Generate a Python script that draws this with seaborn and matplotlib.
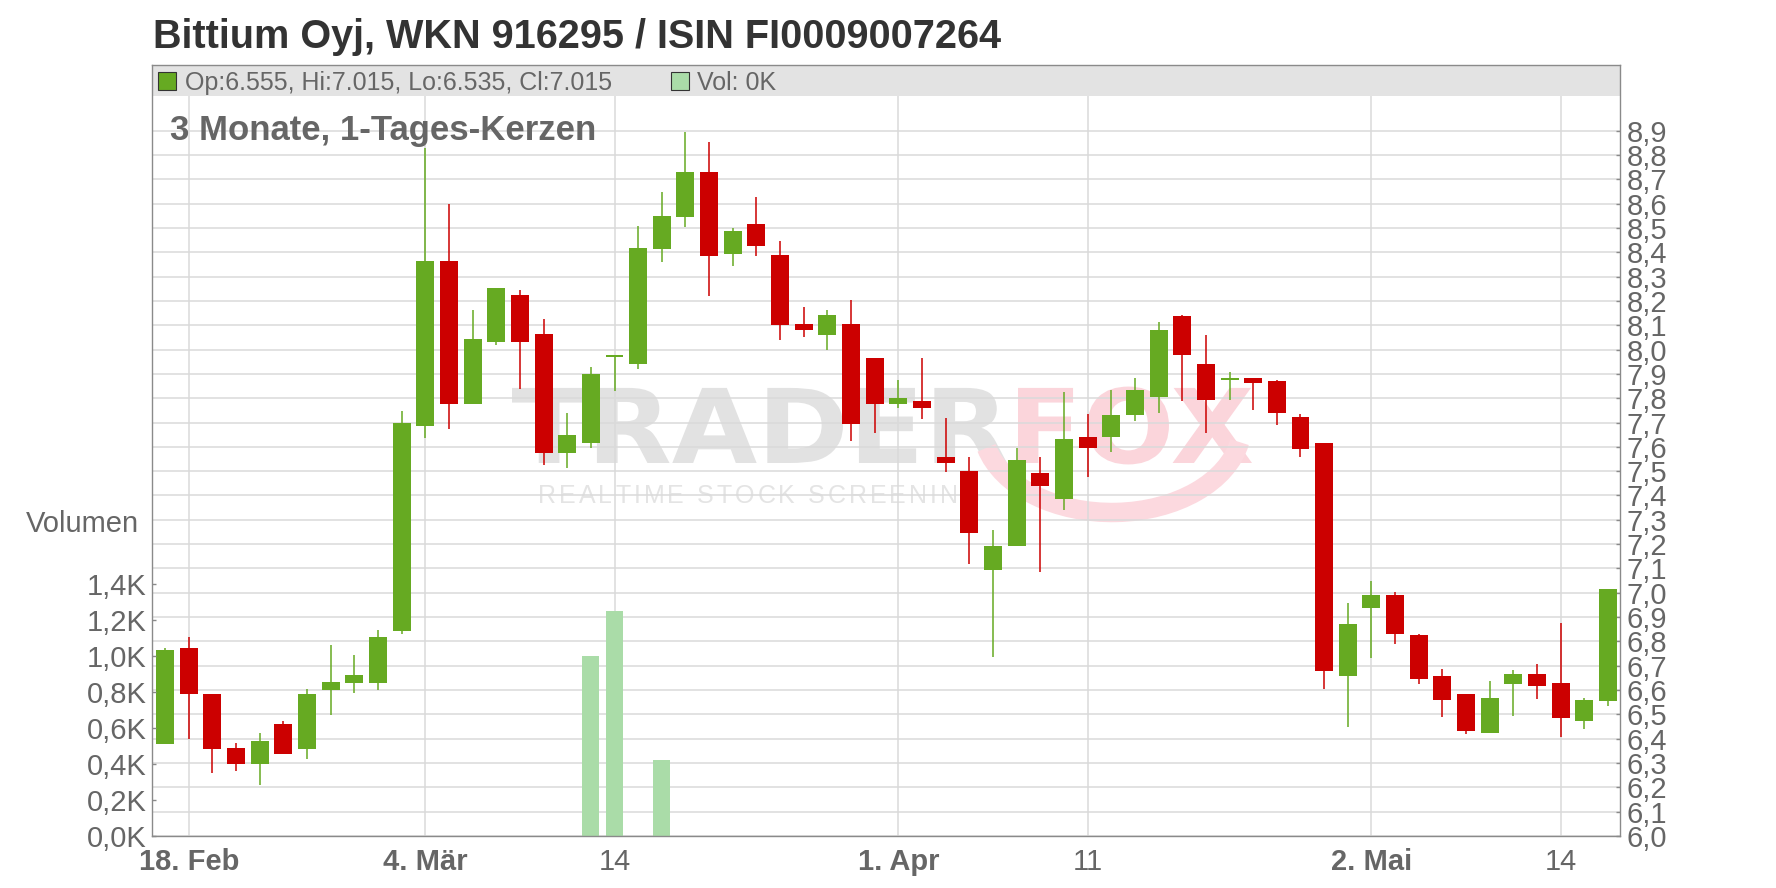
import matplotlib
matplotlib.use("Agg")
import matplotlib.pyplot as plt
from matplotlib.patches import Rectangle, Arc, PathPatch
from matplotlib.textpath import TextPath, text_to_path
from matplotlib.font_manager import FontProperties
from matplotlib.transforms import Affine2D
from matplotlib.ticker import FuncFormatter
import numpy as np
import pandas as pd
import seaborn as sns

# trading days shown (Feb 15 - May 16)
dates = [
    "2019-02-15", "2019-02-18", "2019-02-19", "2019-02-20", "2019-02-21", "2019-02-22",
    "2019-02-25", "2019-02-26", "2019-02-27", "2019-02-28", "2019-03-01",
    "2019-03-04", "2019-03-05", "2019-03-06", "2019-03-07", "2019-03-08",
    "2019-03-11", "2019-03-12", "2019-03-13", "2019-03-14", "2019-03-15",
    "2019-03-18", "2019-03-19", "2019-03-20", "2019-03-21", "2019-03-22",
    "2019-03-25", "2019-03-26", "2019-03-27", "2019-03-28", "2019-03-29",
    "2019-04-01", "2019-04-02", "2019-04-03", "2019-04-04", "2019-04-05",
    "2019-04-08", "2019-04-09", "2019-04-10", "2019-04-11", "2019-04-12",
    "2019-04-15", "2019-04-16", "2019-04-17", "2019-04-18",
    "2019-04-23", "2019-04-24", "2019-04-25", "2019-04-26",
    "2019-04-29", "2019-04-30", "2019-05-02", "2019-05-03",
    "2019-05-06", "2019-05-07", "2019-05-08", "2019-05-09", "2019-05-10",
    "2019-05-13", "2019-05-14", "2019-05-15", "2019-05-16",
]

opens = [6.377, 6.775, 6.584, 6.360, 6.295, 6.460, 6.358, 6.601, 6.630, 6.630,
         6.843, 7.687, 8.366, 7.778, 8.031, 8.225, 8.063, 7.575, 7.616, 7.970,
         7.939, 8.413, 8.546, 8.731, 8.392, 8.515, 8.387, 8.105, 8.060, 8.105,
         7.964, 7.778, 7.789, 7.557, 7.499, 7.092, 7.191, 7.492, 7.385, 7.640,
         7.641, 7.733, 7.803, 8.138, 7.939, 7.874, 7.885, 7.872, 7.723, 7.615,
         6.656, 6.938, 6.991, 6.825, 6.659, 6.584, 6.424, 6.627, 6.667, 6.630,
         6.474, 6.555]
highs = [6.775, 6.817, 6.584, 6.381, 6.423, 6.472, 6.604, 6.785, 6.746, 6.846,
         7.748, 8.830, 8.597, 8.163, 8.254, 8.246, 8.125, 7.740, 7.930, 7.979,
         8.507, 8.648, 8.893, 8.852, 8.499, 8.628, 8.445, 8.175, 8.163, 8.204,
         7.964, 7.874, 7.964, 7.719, 7.557, 7.257, 7.594, 7.557, 7.827, 7.735,
         7.835, 7.885, 8.113, 8.142, 8.059, 7.906, 7.885, 7.876, 7.735, 7.615,
         6.958, 7.049, 7.003, 6.829, 6.688, 6.584, 6.638, 6.684, 6.709, 6.875,
         6.568, 7.015]
lows = [6.377, 6.399, 6.258, 6.266, 6.208, 6.337, 6.316, 6.497, 6.590, 6.601,
        6.829, 7.637, 7.675, 7.778, 8.019, 7.836, 7.525, 7.513, 7.596, 7.828,
        7.919, 8.362, 8.503, 8.222, 8.343, 8.384, 8.040, 8.052, 7.998, 7.625,
        7.658, 7.758, 7.716, 7.496, 7.117, 6.735, 7.191, 7.084, 7.340, 7.474,
        7.579, 7.708, 7.741, 7.787, 7.658, 7.791, 7.753, 7.691, 7.558, 6.606,
        6.449, 6.731, 6.789, 6.627, 6.490, 6.420, 6.424, 6.494, 6.565, 6.407,
        6.441, 6.535]
closes = [6.763, 6.582, 6.358, 6.295, 6.389, 6.337, 6.584, 6.634, 6.663, 6.817,
          7.698, 8.366, 7.778, 8.042, 8.254, 8.031, 7.575, 7.648, 7.901, 7.975,
          8.416, 8.549, 8.731, 8.384, 8.486, 8.426, 8.102, 8.081, 8.142, 7.695,
          7.778, 7.802, 7.758, 7.533, 7.246, 7.194, 7.545, 7.441, 7.632, 7.594,
          7.731, 7.835, 8.080, 7.977, 7.791, 7.885, 7.861, 7.741, 7.592, 6.677,
          6.871, 6.991, 6.831, 6.644, 6.561, 6.432, 6.568, 6.667, 6.615, 6.486,
          6.559, 7.015]
volumes = [0] * 18 + [1000, 1250, 0, 420] + [0] * 40

tick_dates = ["2019-02-18", "2019-03-04", "2019-03-14", "2019-04-01",
              "2019-04-11", "2019-05-02", "2019-05-14"]
tick_labels = ["18. Feb", "4. Mär", "14", "1. Apr", "11", "2. Mai", "14"]

price_ticks = np.round(np.arange(6.0, 8.95, 0.1), 1)
vol_ticks = np.arange(0, 1401, 200)

W, H = 1776, 888
GREEN, RED, VOLC = "#66aa22", "#cc0000", "#aadca8"
TXT, SPINE, GRIDC = "#666666", "#8a8a8a", "#dadada"


def fx(px):
    return px / W


def fy(py):
    return 1 - py / H


sns.set_style("white")
plt.rcParams["font.family"] = ["Liberation Sans", "DejaVu Sans"]

fig = plt.figure(figsize=(W / 100, H / 100), dpi=100, facecolor="white")
left, right, top, bottom = 152.3, 1620.3, 65, 836
ax_p = fig.add_axes([fx(left), fy(bottom), (right - left) / W, (bottom - top) / H])
ax_v = ax_p.twinx()

x = np.arange(len(dates))
o, h, l, c = (np.array(a) for a in (opens, highs, lows, closes))
colors = np.where(c >= o, GREEN, RED)

# candles
ax_p.vlines(x, l, h, colors=colors, lw=1.1, zorder=2)
ax_p.bar(x, np.maximum(np.abs(c - o), 0.008), bottom=np.minimum(o, c),
         width=0.76, color=colors, linewidth=0, zorder=3)

# volume
vol_df = pd.DataFrame({"day": x, "volume": volumes})
vol_df = vol_df[vol_df["volume"] > 0]
sns.barplot(data=vol_df, x="day", y="volume", native_scale=True, color=VOLC,
            saturation=1, width=0.72, errorbar=None, linewidth=0, ax=ax_v)
ax_v.set_xlabel("")
ax_v.set_ylabel("")

ax_p.set_xlim(-0.54, len(dates) - 1 + 0.52)
ax_p.set_ylim(6.0, 9.17)
ax_v.set_ylim(0, 4283)

# price axis right
ax_p.set_yticks(price_ticks)
ax_p.yaxis.set_major_formatter(FuncFormatter(lambda v, _: f"{v:.1f}".replace(".", ",")))
ax_p.yaxis.tick_right()
ax_p.tick_params(axis="y", direction="in", length=3, width=1, color=SPINE,
                 labelcolor=TXT, labelsize=21, pad=4.5,
                 left=False, labelleft=False, right=True, labelright=True)

# x axis
ax_p.set_xticks([dates.index(d) for d in tick_dates], tick_labels)
ax_p.tick_params(axis="x", direction="out", length=2.5, width=1, color=SPINE,
                 labelcolor=TXT, labelsize=21, pad=6)
for lbl in ax_p.get_xticklabels():
    if not lbl.get_text().isdigit():
        lbl.set_fontweight("bold")

# volume axis left
ax_v.set_yticks(vol_ticks)
ax_v.yaxis.set_major_formatter(FuncFormatter(lambda v, _: f"{v / 1000:.1f}K".replace(".", ",")))
ax_v.yaxis.tick_left()
ax_v.tick_params(axis="y", direction="in", length=3, width=1, color=SPINE,
                 labelcolor=TXT, labelsize=21, pad=4,
                 left=True, labelleft=True, right=False, labelright=False)

ax_p.grid(True, color=GRIDC, lw=1.1)
ax_p.set_axisbelow(True)
ax_v.grid(False)
for s in ax_p.spines.values():
    s.set_visible(False)
for s in ax_v.spines.values():
    s.set_visible(True)
    s.set_color(SPINE)
    s.set_linewidth(1.0)

# header band inside the frame
band_y = (bottom - 96) / (bottom - top)
ax_v.add_patch(Rectangle((0, band_y), 1, 1 - band_y, transform=ax_v.transAxes,
                         facecolor="#e3e3e3", edgecolor="none", zorder=2))

# watermark (kept inside the price axes so the candles sit on top of it)
px_to_fig = Affine2D().scale(1 / W, 1 / H) + fig.transFigure
wm_font = FontProperties(family="DejaVu Sans", weight="bold")


def wide_text(s, x0, base, width, color):
    tp = TextPath((0, 0), s, size=103, prop=wm_font)
    ext = tp.get_extents()
    tr = Affine2D().translate(-ext.x0, 0).scale(width / ext.width, 1).translate(x0, H - base)
    ax_p.add_patch(PathPatch(tp, transform=tr + px_to_fig, facecolor=color,
                             edgecolor="none", zorder=0.4))


wide_text("TRADER", 512, 463, 495, "#e2e2e2")
wide_text("FOX", 1018, 463, 234, "#fbd5db")

small_font = FontProperties(family="Liberation Sans", size=18)
cursor = 538
for ch in "REALTIME STOCK SCREENING":
    ax_p.text(fx(cursor), fy(503), ch, transform=fig.transFigure,
              fontproperties=small_font, color="#e4e4e4", zorder=0.4)
    w, _, _ = text_to_path.get_text_width_height_descent(ch, small_font, ismath=False)
    cursor += w * 100 / 72 + 3
ax_p.add_patch(Arc((fx(1112), fy(425)), 260 / W, 175 / H, theta1=200, theta2=345,
                   transform=fig.transFigure, color="#fcd9df", lw=14, zorder=0.45))

# texts
fig.text(fx(153), fy(47.5), "Bittium Oyj, WKN 916295 / ISIN FI0009007264",
         fontsize=28.5, fontweight="bold", color="#333333", va="baseline")
fig.text(fx(170), fy(140), "3 Monate, 1-Tages-Kerzen", fontsize=25,
         fontweight="bold", color=TXT, va="baseline")
fig.text(fx(139), fy(532), "Volumen", fontsize=21, color=TXT, ha="right", va="baseline")

fig.add_artist(Rectangle((fx(157.5), fy(90.5)), 18 / W, 18 / H, transform=fig.transFigure,
                         facecolor=GREEN, edgecolor="#333333", lw=0.8))
fig.text(fx(185), fy(90), f"Op:{opens[-1]:.3f}, Hi:{highs[-1]:.3f}, "
         f"Lo:{lows[-1]:.3f}, Cl:{closes[-1]:.3f}",
         fontsize=18, color=TXT, va="baseline")
fig.add_artist(Rectangle((fx(670.5), fy(90.5)), 18 / W, 18 / H, transform=fig.transFigure,
                         facecolor=VOLC, edgecolor="#333333", lw=0.8))
fig.text(fx(697), fy(90), f"Vol: {volumes[-1] / 1000:.0f}K", fontsize=18,
         color=TXT, va="baseline")

fig.savefig("out.png", dpi=100)
